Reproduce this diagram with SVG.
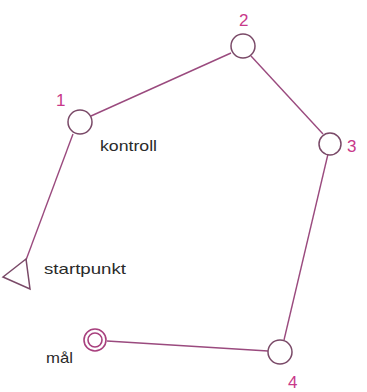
<svg xmlns="http://www.w3.org/2000/svg" width="367" height="392" viewBox="0 0 367 392">
<style>
.ctl{fill:none;stroke:#7a4a68;stroke-width:1.5}
.goal{fill:none;stroke:#a8407e;stroke-width:1.6}
.leg{stroke:#9a4a7e;stroke-width:1.4;fill:none}
.num{font-family:"Liberation Sans",Arial,sans-serif;font-size:17px;fill:#c8388a}
.lbl{font-family:"Liberation Sans",Arial,sans-serif;font-size:15px;fill:#2a2a2a}
</style>
<rect width="367" height="392" fill="#ffffff"/>
<g id="connectors">
<line class="leg" x1="73" y1="134" x2="26" y2="260"/>
<line class="leg" x1="91" y1="116" x2="231" y2="53"/>
<line class="leg" x1="251" y1="56" x2="323" y2="134"/>
<line class="leg" x1="328" y1="154" x2="284" y2="340"/>
<line class="leg" x1="268" y1="351" x2="107" y2="341"/>
</g>
<g id="start">
<polygon class="ctl" points="26,259 3,277 30,289"/>
<text class="lbl" x="44" y="274" textLength="82" lengthAdjust="spacingAndGlyphs">startpunkt</text>
</g>
<g id="node1">
<circle class="ctl" cx="80" cy="122" r="12"/>
<text class="num" x="56" y="106">1</text>
<text class="lbl" x="100" y="151" textLength="57" lengthAdjust="spacingAndGlyphs">kontroll</text>
</g>
<g id="node2">
<circle class="ctl" cx="243" cy="46" r="12"/>
<text class="num" x="239" y="26">2</text>
</g>
<g id="node3">
<circle class="ctl" cx="330" cy="144" r="11"/>
<text class="num" x="347" y="152">3</text>
</g>
<g id="node4">
<circle class="ctl" cx="280" cy="352" r="12"/>
<text class="num" x="288" y="388">4</text>
</g>
<g id="goal">
<circle class="goal" cx="95" cy="340" r="11"/>
<circle class="goal" cx="95" cy="340" r="7"/>
<text class="lbl" x="46" y="363" textLength="27" lengthAdjust="spacingAndGlyphs">mål</text>
</g>
</svg>
